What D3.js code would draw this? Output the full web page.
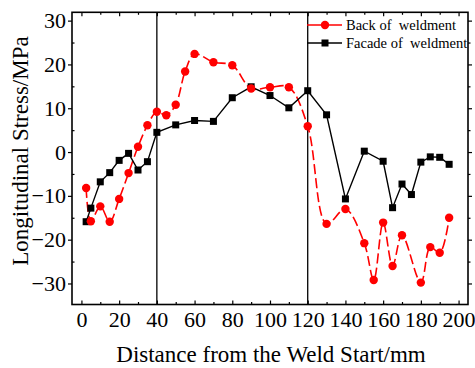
<!DOCTYPE html>
<html>
<head>
<meta charset="utf-8">
<script src="https://cdn.jsdelivr.net/npm/d3@7"></script>
<style>
  body { margin: 0; background: #fff; }
  text { font-family: "Liberation Serif", "Times New Roman", serif; fill: #000; }
</style>
</head>
<body>
<script>
// data
var backX = [2.5, 5, 10, 15, 20, 25, 30, 35, 40, 45, 50, 55, 60, 70, 80, 90, 100, 110, 120, 130, 140, 150, 155, 160, 165, 170, 180, 185, 190, 195]
var backY = [-8.2, -15.8, -12.4, -15.9, -10.7, -4.8, 1.2, 6.1, 9.2, 8.4, 10.8, 18.4, 22.4, 20.5, 19.8, 14.5, 14.8, 14.8, 5.9, -16.4, -13.0, -20.8, -29.2, -16.1, -26.0, -19.0, -29.8, -21.7, -23.0, -15.0]

var faceX = [2.5, 5, 10, 15, 20, 25, 30, 35, 40, 50, 60, 70, 80, 90, 100, 110, 120, 130, 140, 150, 160, 165, 170, 175, 180, 185, 190, 195]
var faceY = [-15.9, -12.8, -6.8, -4.7, -1.9, -0.3, -4.1, -2.2, 4.5, 6.2, 7.2, 7.0, 12.4, 14.9, 12.9, 10.1, 14.0, 8.5, -10.7, 0.2, -2.1, -12.7, -7.3, -9.7, -2.3, -1.1, -1.2, -2.8]

var xTicks = [0, 20, 40, 60, 80, 100, 120, 140, 160, 180, 200]
var yTicks = [-30, -20, -10, 0, 10, 20, 30]
var markLines = [40, 120]
var seriesNames = ["Back of  weldment", "Facade of  weldment"]

var serif = '"Liberation Serif", "Times New Roman", serif'

function main() {
  var svg = d3.select("body").append("svg").attr("width", 475).attr("height", 368)

  var x = d3.scaleLinear().domain([-5, 205]).range([72, 468])
  var y = d3.scaleLinear().domain([-34.8, 31.9]).range([304.5, 12.3])

  var left = 72, right = 468, top = 12.3, bottom = 304.5

  // minor ticks
  var xMinor = d3.range(0, 206, 10).filter(function(d) { return d % 20 != 0 })
  var yMinor = d3.range(-30, 31, 5).filter(function(d) { return d % 10 != 0 })

  // bottom axis
  var bAxis = svg.append("g").attr("transform", "translate(0," + bottom + ")")
    .call(d3.axisBottom(x).tickValues(xTicks).tickSize(-4).tickPadding(7).tickFormat(d3.format("d")))
  bAxis.selectAll("text").attr("dy", "0.71em").style("font-size", "22px").style("font-family", serif)
  svg.append("g").attr("transform", "translate(0," + bottom + ")")
    .call(d3.axisBottom(x).tickValues(xMinor).tickSize(-2.5).tickFormat(""))

  // top axis
  svg.append("g").attr("transform", "translate(0," + top + ")")
    .call(d3.axisTop(x).tickValues(xTicks).tickSize(-4).tickFormat(""))
  svg.append("g").attr("transform", "translate(0," + top + ")")
    .call(d3.axisTop(x).tickValues(xMinor).tickSize(-2.5).tickFormat(""))

  // left axis
  var lAxis = svg.append("g").attr("transform", "translate(" + left + ",0)")
    .call(d3.axisLeft(y).tickValues(yTicks).tickSize(4).tickPadding(2).tickFormat(function(d) { return d < 0 ? "\u2212" + Math.abs(d) : d }))
  lAxis.selectAll("text").style("font-size", "22px").style("font-family", serif)
  svg.append("g").attr("transform", "translate(" + left + ",0)")
    .call(d3.axisLeft(y).tickValues(yMinor).tickSize(-2.5).tickFormat(""))

  // right axis
  svg.append("g").attr("transform", "translate(" + right + ",0)")
    .call(d3.axisRight(y).tickValues(yTicks).tickSize(4).tickFormat(""))
  svg.append("g").attr("transform", "translate(" + right + ",0)")
    .call(d3.axisRight(y).tickValues(yMinor).tickSize(2.5).tickFormat(""))

  svg.selectAll(".domain").remove()
  svg.selectAll(".tick line").attr("stroke", "#000").attr("stroke-width", 1.2)

  // frame
  svg.append("rect").attr("x", left).attr("y", top)
    .attr("width", right - left).attr("height", bottom - top)
    .attr("fill", "none").attr("stroke", "#000").attr("stroke-width", 1.6)

  // vertical reference lines
  svg.selectAll(".vline").data(markLines).enter().append("line")
    .attr("x1", function(d) { return x(d) }).attr("x2", function(d) { return x(d) })
    .attr("y1", top).attr("y2", bottom)
    .attr("stroke", "#000").attr("stroke-width", 1.3)

  var backData = backX.map(function(d, i) { return [d, backY[i]] })
  var faceData = faceX.map(function(d, i) { return [d, faceY[i]] })

  var smooth = d3.line().x(function(d) { return x(d[0]) }).y(function(d) { return y(d[1]) })
    .curve(d3.curveCatmullRom.alpha(0.5))
  var straight = d3.line().x(function(d) { return x(d[0]) }).y(function(d) { return y(d[1]) })

  svg.append("path").attr("d", smooth(backData))
    .attr("fill", "none").attr("stroke", "red").attr("stroke-width", 1.6)
    .attr("stroke-dasharray", "10,4")

  svg.append("path").attr("d", straight(faceData))
    .attr("fill", "none").attr("stroke", "#000").attr("stroke-width", 1.4)

  svg.selectAll(".face").data(faceData).enter().append("rect")
    .attr("x", function(d) { return x(d[0]) - 3.5 })
    .attr("y", function(d) { return y(d[1]) - 3.5 })
    .attr("width", 7).attr("height", 7).attr("fill", "#000")

  svg.selectAll(".back").data(backData).enter().append("circle")
    .attr("cx", function(d) { return x(d[0]) })
    .attr("cy", function(d) { return y(d[1]) })
    .attr("r", 4.2).attr("fill", "red")

  // legend
  var legend = svg.append("g")
  var legColors = ["red", "#000"]
  seriesNames.forEach(function(name, i) {
    var ly = 25 + i * 18
    legend.append("line").attr("x1", 307).attr("x2", 342).attr("y1", ly).attr("y2", ly)
      .attr("stroke", legColors[i]).attr("stroke-width", 1.5)
    if (i == 0) {
      legend.append("circle").attr("cx", 325).attr("cy", ly).attr("r", 4.2).attr("fill", "red")
    } else {
      legend.append("rect").attr("x", 321.5).attr("y", ly - 3.5).attr("width", 7).attr("height", 7).attr("fill", "#000")
    }
    legend.append("text").attr("x", 346).attr("y", ly + 5)
      .style("font-size", "14.5px").style("white-space", "pre").text(name)
  })

  // axis titles
  svg.append("text").attr("x", 271).attr("y", 362).attr("text-anchor", "middle")
    .style("font-size", "23px").text("Distance from the Weld Start/mm")
  svg.append("text").attr("transform", "translate(28,151) rotate(-90)").attr("text-anchor", "middle")
    .style("font-size", "23px").text("Longitudinal Stress/MPa")
}

main()
</script>
</body>
</html>
